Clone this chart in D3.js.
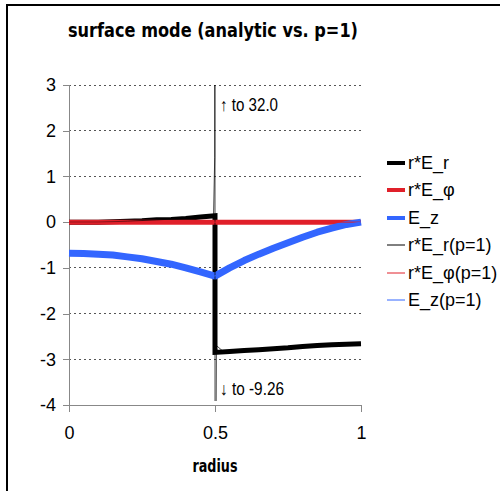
<!DOCTYPE html>
<html><head><meta charset="utf-8">
<script src="https://cdn.jsdelivr.net/npm/d3@7"></script>
<style>body{margin:0;background:#fff}svg{display:block}</style>
</head><body>
<svg id="c" width="500" height="491"></svg>
<script>
// ---- data ----
const title = "surface mode (analytic vs. p=1)";
const xLabel = "radius";
const xTicks = [0, 0.5, 1];
const xTickLabels = ["0", "0.5", "1"];
const yTicks = [-4, -3, -2, -1, 0, 1, 2, 3];
const yTickLabels = ["-4", "-3", "-2", "-1", "0", "1", "2", "3"];
const seriesNames = ["r*E_r", "r*E_\u03c6", "E_z", "r*E_r(p=1)", "r*E_\u03c6(p=1)", "E_z(p=1)"];
const seriesColors = ["#000000", "#e0202a", "#3366ff", "#000000", "#e0202a", "#3366ff"];
const seriesWidths = [5, 5, 7, 0.7, 1, 1];

const r_rEr = [0, 0.1, 0.15, 0.2, 0.25, 0.3, 0.35, 0.4, 0.45, 0.5, 0.5, 0.55, 0.6, 0.65, 0.7, 0.75, 0.8, 0.85, 0.9, 0.95, 1.0];
const v_rEr = [0, 0.0, 0.01, 0.02, 0.03, 0.05, 0.06, 0.08, 0.11, 0.14, -2.85, -2.83, -2.81, -2.79, -2.77, -2.75, -2.72, -2.70, -2.68, -2.67, -2.66];

const r_rEphi = [0, 1];
const v_rEphi = [0, 0];

const r_Ez = [0, 0.05, 0.1, 0.15, 0.2, 0.25, 0.3, 0.35, 0.4, 0.45, 0.5, 0.55, 0.6, 0.65, 0.7, 0.75, 0.8, 0.85, 0.9, 0.95, 1.0];
const v_Ez = [-0.68, -0.685, -0.70, -0.72, -0.76, -0.80, -0.86, -0.92, -1.00, -1.09, -1.18, -1.00, -0.84, -0.70, -0.57, -0.45, -0.33, -0.22, -0.13, -0.05, 0];

const r_rEr1 = [0, 0.1, 0.2, 0.3, 0.4, 0.45, 0.495, 0.499, 0.5, 0.5, 0.505, 0.53, 0.6, 0.7, 0.8, 0.9, 1.0];
const v_rEr1 = [0, 0.0, 0.02, 0.05, 0.08, 0.11, 0.14, 1.42, 32.0, -9.26, -2.70, -2.84, -2.81, -2.77, -2.72, -2.68, -2.66];

const r_rEphi1 = [0, 1];
const v_rEphi1 = [0, 0];

const r_Ez1 = r_Ez;
const v_Ez1 = v_Ez;

const annotations = ["\u2191 to 32.0", "\u2193 to -9.26"];

// ---- chart ----
const svg = d3.select("#c");
const x = d3.scaleLinear().domain([0, 1]).range([69, 361]);
const y = d3.scaleLinear().domain([-4, 3]).range([405, 85]);

// frame
svg.append("rect").attr("x", 7).attr("y", 5).attr("width", 600).attr("height", 600)
  .attr("fill", "none").attr("stroke", "#000").attr("stroke-width", 2);

// title
svg.append("text").attr("x", 68).attr("y", 37).text(title)
  .attr("font-family", "DejaVu Sans").attr("font-weight", "bold").attr("font-size", 19)
  .attr("textLength", 290).attr("lengthAdjust", "spacingAndGlyphs").attr("fill", "#000");

// gridlines
svg.append("g").selectAll("line").data(yTicks.filter(d => d > -4)).join("line")
  .attr("x1", x(0)).attr("x2", x(1)).attr("y1", d => y(d)).attr("y2", d => y(d))
  .attr("stroke", "#555").attr("stroke-width", 1).attr("stroke-dasharray", "2,3")
  .attr("shape-rendering", "crispEdges");

// axes
const yAxis = d3.axisLeft(y).tickValues(yTicks).tickSize(6).tickPadding(7)
  .tickFormat((d, i) => yTickLabels[i]);
const gy = svg.append("g").attr("transform", `translate(${x(0)},0)`).call(yAxis);
const xAxis = d3.axisBottom(x).tickValues(xTicks).tickSize(7).tickPadding(14)
  .tickFormat((d, i) => xTickLabels[i]);
const gx = svg.append("g").attr("transform", `translate(0,${y(-4)})`).call(xAxis);
[gx, gy].forEach(g => {
  g.select(".domain").attr("stroke", "#888").attr("shape-rendering", "crispEdges");
  g.selectAll(".tick line").attr("stroke", "#888").attr("shape-rendering", "crispEdges");
  g.selectAll(".tick text").attr("font-family", "Liberation Sans, Arial").attr("font-size", 18).attr("fill", "#000");
});
gy.select(".domain").attr("d", `M0,${y(3)}V${y(-4)}`);
gx.select(".domain").attr("d", `M${x(0)},0H${x(1)}`);

// x label
svg.append("text").attr("x", 215).attr("y", 472).attr("text-anchor", "middle").text(xLabel)
  .attr("font-family", "DejaVu Sans").attr("font-weight", "bold").attr("font-size", 17)
  .attr("textLength", 45).attr("lengthAdjust", "spacingAndGlyphs");

// clip
svg.append("clipPath").attr("id", "pc").append("rect")
  .attr("x", x(0) - 4).attr("y", y(3)).attr("width", x(1) - x(0) + 8).attr("height", y(-4) - y(3) - 4);

const line = d3.line().x(d => x(d[0])).y(d => y(d[1]));
const series = [
  [r_rEr, v_rEr], [r_rEphi, v_rEphi], [r_Ez, v_Ez],
  [r_rEr1, v_rEr1], [r_rEphi1, v_rEphi1], [r_Ez1, v_Ez1]
];
const plot = svg.append("g").attr("clip-path", "url(#pc)");
series.forEach((s, i) => {
  const pts = s[0].map((r, k) => [r, s[1][k]]);
  plot.append("path").attr("d", line(pts)).attr("fill", "none")
    .attr("stroke", seriesColors[i]).attr("stroke-width", seriesWidths[i])
    .attr("stroke-linejoin", i === 0 ? "miter" : "round");
});

// annotations
const ann = svg.append("g").attr("font-family", "Liberation Sans, Arial").attr("font-size", 18);
ann.append("text").attr("x", 220).attr("y", 111).text(annotations[0]).attr("textLength", 58).attr("lengthAdjust", "spacingAndGlyphs");
ann.append("text").attr("x", 220).attr("y", 395).text(annotations[1]).attr("textLength", 64).attr("lengthAdjust", "spacingAndGlyphs");

// legend
const legRows = [163, 190, 218, 245, 273, 300];
const leg = svg.append("g");
seriesNames.forEach((n, i) => {
  leg.append("line").attr("x1", 387).attr("x2", 405).attr("y1", legRows[i]).attr("y2", legRows[i])
    .attr("stroke", seriesColors[i]).attr("stroke-width", i < 3 ? 4 : 1);
  leg.append("text").attr("x", 408).attr("y", legRows[i] + 6).text(n)
    .attr("font-family", "Liberation Sans, Arial").attr("font-size", 18).attr("fill", "#000");
});
</script>
</body></html>
